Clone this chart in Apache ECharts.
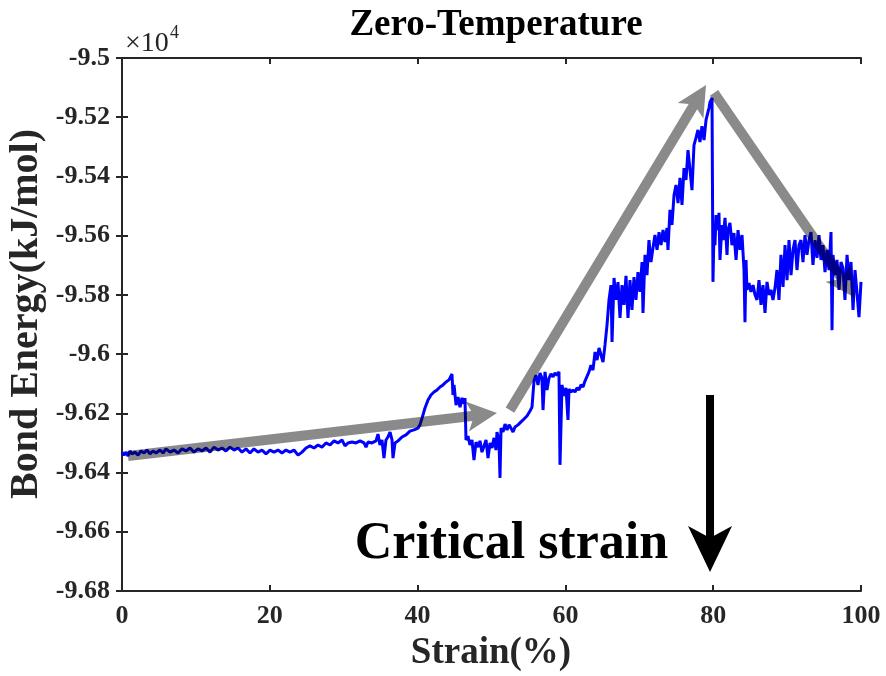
<!DOCTYPE html>
<html>
<head>
<meta charset="utf-8">
<script src="https://cdn.jsdelivr.net/npm/echarts@6/dist/echarts.min.js"></script>
<style>
html, body { margin: 0; padding: 0; background: #fff; }
#chart { width: 886px; height: 676px; }
</style>
</head>
<body>
<div id="chart"></div>
<script>
// Bond energy (kJ/mol) of the structure versus applied strain (%), zero temperature run
const strain = [
  0, 0.27, 0.54, 0.81, 1.08, 1.35, 1.76, 2.17, 2.57, 2.98, 3.38, 3.79, 4.19, 4.60, 5.14, 5.55, 5.95, 6.50, 7.04, 7.58,
  8.12, 8.66, 9.20, 9.74, 10.28, 10.83, 11.37, 11.91, 12.45, 12.99, 13.53, 14.07, 14.61, 15.16, 15.70, 16.24, 16.78, 17.32, 17.86, 18.40,
  18.94, 19.49, 20.03, 20.57, 21.11, 21.65, 22.19, 22.73, 23.27, 23.82, 24.09,
  24.36, 24.90, 25.44, 25.98, 26.52, 27.06, 27.60, 28.15, 28.69, 29.23, 29.77, 30.18, 30.58, 31.12, 31.66, 32.21, 32.75, 33.02, 33.29, 33.83,
  34.37, 34.64, 34.91, 35.18, 35.45, 35.72, 35.99, 36.27, 36.54, 36.67, 36.94,
  37.35, 37.89, 38.43, 38.97, 39.51, 40.05, 40.32, 40.60, 41.00, 41.41, 41.81, 42.22, 42.63, 43.03, 43.44, 43.84, 44.25, 44.52, 44.65, 44.79,
  44.93, 45.20, 45.47, 45.74, 46.01, 46.28, 46.41, 46.55, 46.82, 47.09,
  47.36, 47.63, 47.90, 48.17, 48.44, 48.71, 48.99, 49.26, 49.53, 49.80, 50.07, 50.34, 50.61, 50.74, 51.01, 51.15, 51.29, 51.56, 51.83, 52.10, 52.37,
  52.64, 52.91, 53.18, 53.59, 53.99, 54.40, 54.80, 55.21, 55.48, 55.75, 56.02, 56.29, 56.56, 56.83, 56.97, 57.24, 57.51, 57.78, 58.05, 58.32,
  58.59, 58.86, 59.13, 59.27, 59.54, 59.81, 60.08, 60.35, 60.49, 60.76, 61.03, 61.30, 61.57, 61.84, 62.11, 62.38, 62.65, 62.92, 63.19,
  63.46, 63.73, 64.01, 64.28, 64.55, 64.82, 65.09, 65.36, 65.63, 65.90, 66.17, 66.31, 66.58, 66.85, 67.12, 67.39, 67.66, 67.93, 68.20, 68.47,
  68.74, 69.01, 69.28, 69.55, 69.82, 70.09, 70.37, 70.50, 70.77, 71.04, 71.31, 71.58, 71.85, 72.12, 72.40, 72.67, 72.94, 73.21, 73.48, 73.75, 73.88,
  74.15, 74.42, 74.70, 74.97, 75.24, 75.51, 75.78, 76.05, 76.32, 76.59, 76.86, 77.13, 77.40, 77.67, 77.94, 78.21, 78.48, 78.76, 79.03, 79.30,
  79.43, 79.57, 79.70, 79.84,
  79.97, 80.11, 80.24, 80.38, 80.65, 80.78, 80.92, 81.19, 81.33, 81.60, 81.87, 82.00, 82.27, 82.54, 82.81, 83.09, 83.36, 83.63, 83.90, 84.17,
  84.30, 84.44, 84.57,
  84.84, 85.11, 85.39, 85.66, 85.93, 86.20, 86.47, 86.74, 87.01, 87.28, 87.55, 87.82, 88.09, 88.36, 88.63, 88.90, 89.17, 89.45, 89.72, 89.99,
  90.26, 90.53, 90.80,
  91.07, 91.34, 91.61, 91.88, 92.15, 92.42, 92.69, 92.96, 93.23, 93.50, 93.78, 94.05, 94.32, 94.59, 94.86, 95.13, 95.40, 95.67, 95.94, 96.08,
  96.21, 96.48, 96.75, 97.02, 97.29, 97.56, 97.83, 98.11, 98.38, 98.65, 98.92, 99.19, 99.46, 99.73, 100.0
];

const energy = [
  -96331, -96341, -96331, -96344, -96327, -96337, -96331, -96341, -96327, -96334, -96324, -96337, -96327, -96334, -96324, -96334, -96320, -96331, -96324, -96334,
  -96320, -96327, -96317, -96331, -96320, -96327, -96317, -96331, -96314, -96324, -96317, -96327, -96314, -96324, -96317, -96331, -96320, -96334, -96320, -96331,
  -96324, -96337, -96324, -96331, -96324, -96334, -96324, -96331, -96324, -96341, -96341,
  -96331, -96317, -96310, -96317, -96307, -96314, -96300, -96307, -96293, -96300, -96290, -96310, -96300, -96297, -96300, -96293, -96300, -96314, -96297, -96300,
  -96293, -96270, -96307, -96290, -96351, -96290, -96280, -96263, -96290, -96351, -96300,
  -96293, -96280, -96273, -96260, -96256, -96250, -96239, -96216, -96182, -96155, -96138, -96128, -96121, -96111, -96104, -96094, -96087, -96074, -96067, -96138,
  -96104, -96172, -96145, -96179, -96148, -96168, -96148, -96290, -96277, -96307,
  -96290, -96358, -96297, -96314, -96293, -96331, -96310, -96290, -96351, -96300, -96317, -96283, -96324, -96263, -96290, -96418, -96250, -96263, -96236, -96256, -96239,
  -96250, -96263, -96246, -96239, -96229, -96219, -96209, -96192, -96179, -96091, -96071, -96104, -96064, -96081, -96189, -96060, -96121, -96081, -96067, -96077,
  -96064, -96071, -96060, -96374, -96104, -96141, -96114, -96222, -96118, -96128, -96121, -96128, -96114, -96121, -96104, -96111, -96091, -96087, -96060,
  -96037, -96054, -95993, -96020, -95979, -96003, -96027, -95969, -95902, -95817, -95767, -95959, -95743, -95817, -95757, -95878, -95767, -95834, -95736, -95878,
  -95750, -95851, -95740, -95817, -95723, -95790, -95689, -95861, -95665, -95733, -95615, -95689, -95642, -95598, -95648, -95588, -95632, -95581, -95621, -95574, -95648,
  -95513, -95564, -95463, -95429, -95490, -95405, -95496, -95372, -95412, -95311, -95378, -95446, -95294, -95270, -95243, -95284, -95230, -95277, -95209, -95182,
  -95169, -95149, -95142, -95135,
  -95756, -95581, -95632, -95530, -95581, -95523, -95682, -95564, -95615, -95540, -95665, -95581, -95557, -95632, -95591, -95682, -95581, -95648, -95598, -95716,
  -95892, -95682, -95783,
  -95760, -95790, -95767, -95800, -95817, -95750, -95834, -95767, -95861, -95756, -95800, -95783, -95817, -95777, -95716, -95817, -95665, -95773, -95632, -95750,
  -95615, -95733, -95648,
  -95615, -95716, -95632, -95615, -95689, -95598, -95665, -95615, -95588, -95699, -95615, -95675, -95598, -95682, -95632, -95723, -95648, -95716, -95588, -95919,
  -95665, -95733, -95682, -95783, -95689, -95709, -95817, -95665, -95750, -95689, -95851, -95716, -95794, -95875, -95756
];

// Axis ranges and tick spacing
const strainRange = [0, 100, 20];
const energyRange = [-96800, -95000, 200];

// Trend arrows (strain %, kJ/mol): elastic, hardening, failure
const trendArrows = [
  { from: [0.81, -96344], to: [50.74, -96199] },
  { from: [52.50, -96189], to: [79.03, -95091] },
  { from: [80.11, -95118], to: [99.19, -95810] }
];
// Marker for the critical strain
const criticalArrow = { from: [79.57, -96138], to: [79.57, -96736] };
const criticalLabel = { text: 'Critical strain', at: [52.7, -96643] };

const serif = "'Liberation Serif', 'Times New Roman', serif";
const axisColor = '#262626';

const chart = echarts.init(document.getElementById('chart'), null, { renderer: 'canvas' });

const seriesData = strain.map((s, i) => [s, energy[i]]);

function tickText(v) {
  return String(parseFloat((v / 1e4).toFixed(3)));
}

const baseAxisLine = { show: true, lineStyle: { color: axisColor, width: 2 } };
const baseTick = { show: true, inside: true, length: 6, lineStyle: { color: axisColor, width: 2 } };

chart.setOption({
  animation: false,
  backgroundColor: '#fff',
  grid: { left: 122, top: 58, right: 25, bottom: 85, containLabel: false },
  xAxis: [
    {
      type: 'value', min: strainRange[0], max: strainRange[1], interval: strainRange[2],
      position: 'bottom',
      axisLine: baseAxisLine, axisTick: baseTick, splitLine: { show: false },
      axisLabel: { color: axisColor, fontFamily: serif, fontWeight: 'bold', fontSize: 26, margin: 12 }
    },
    {
      type: 'value', min: strainRange[0], max: strainRange[1], interval: strainRange[2],
      position: 'top',
      axisLine: baseAxisLine, axisTick: baseTick, splitLine: { show: false },
      axisLabel: { show: false }
    }
  ],
  yAxis: [
    {
      type: 'value', min: energyRange[0], max: energyRange[1], interval: energyRange[2],
      position: 'left',
      axisLine: baseAxisLine, axisTick: baseTick, splitLine: { show: false },
      axisLabel: { color: axisColor, fontFamily: serif, fontWeight: 'bold', fontSize: 26, margin: 12, formatter: tickText }
    },
    {
      type: 'value', min: energyRange[0], max: energyRange[1], interval: energyRange[2],
      position: 'right',
      axisLine: baseAxisLine, axisTick: baseTick, splitLine: { show: false },
      axisLabel: { show: false }
    }
  ],
  series: [
    {
      type: 'line',
      data: seriesData,
      showSymbol: false,
      symbol: 'none',
      lineStyle: { color: '#0000ff', width: 3 },
      xAxisIndex: 0, yAxisIndex: 0,
      z: 2
    }
  ]
});

function toPx(pt) {
  return chart.convertToPixel({ gridIndex: 0 }, pt);
}

// Arrow outline: shaft plus a swept-back head
function arrowShape(p0, p1, shaftW, headL, headW, notch) {
  const dx = p1[0] - p0[0], dy = p1[1] - p0[1];
  const len = Math.hypot(dx, dy);
  const ux = dx / len, uy = dy / len;
  const nx = -uy, ny = ux;
  const h = shaftW / 2, H = headW / 2;
  const base = [p1[0] - ux * headL, p1[1] - uy * headL];
  const neck = [p1[0] - ux * (headL - notch), p1[1] - uy * (headL - notch)];
  // where the shaft edge meets the head's back edge
  const t = h / H;
  const joinA = [neck[0] + (base[0] + nx * H - neck[0]) * t, neck[1] + (base[1] + ny * H - neck[1]) * t];
  const joinB = [neck[0] + (base[0] - nx * H - neck[0]) * t, neck[1] + (base[1] - ny * H - neck[1]) * t];
  return [
    [p0[0] + nx * h, p0[1] + ny * h],
    joinA,
    [base[0] + nx * H, base[1] + ny * H],
    [p1[0], p1[1]],
    [base[0] - nx * H, base[1] - ny * H],
    joinB,
    [p0[0] - nx * h, p0[1] - ny * h]
  ];
}

const graphics = [];

trendArrows.forEach((a, i) => {
  graphics.push({
    type: 'polygon',
    id: 'trend' + i,
    z: 100,
    shape: { points: arrowShape(toPx(a.from), toPx(a.to), 10, 30, 30, 7) },
    style: { fill: '#8a8a8a', blend: 'multiply' }
  });
});

graphics.push({
  type: 'polygon',
  id: 'critical',
  z: 101,
  shape: { points: arrowShape(toPx(criticalArrow.from), toPx(criticalArrow.to), 8, 46, 44, 12) },
  style: { fill: '#000' }
});

const labelPos = toPx(criticalLabel.at);
graphics.push({
  type: 'text', id: 'critLabel', z: 101,
  x: labelPos[0], y: labelPos[1],
  style: {
    text: criticalLabel.text, fill: '#000', font: 'bold 52px ' + serif,
    align: 'center', verticalAlign: 'middle'
  }
});

graphics.push({
  type: 'text', id: 'title', z: 101,
  x: 496, y: 25,
  style: { text: 'Zero-Temperature', fill: '#000', font: 'bold 37px ' + serif, align: 'center', verticalAlign: 'middle' }
});

graphics.push({
  type: 'text', id: 'xName', z: 101,
  x: 491, y: 653,
  style: { text: 'Strain(%)', fill: axisColor, font: 'bold 37px ' + serif, align: 'center', verticalAlign: 'middle' }
});

graphics.push({
  type: 'text', id: 'yName', z: 101,
  x: 27, y: 314, rotation: Math.PI / 2,
  style: { text: 'Bond Energy(kJ/mol)', fill: axisColor, font: 'bold 40px ' + serif, align: 'center', verticalAlign: 'middle' }
});

graphics.push({
  type: 'text', id: 'exp10', z: 101,
  x: 125, y: 44,
  style: { text: '\u00d710', fill: axisColor, font: '28px ' + serif, align: 'left', verticalAlign: 'middle' }
});
graphics.push({
  type: 'text', id: 'exp4', z: 101,
  x: 170, y: 33,
  style: { text: '4', fill: axisColor, font: '18px ' + serif, align: 'left', verticalAlign: 'middle' }
});

chart.setOption({ graphic: graphics });
</script>
</body>
</html>
